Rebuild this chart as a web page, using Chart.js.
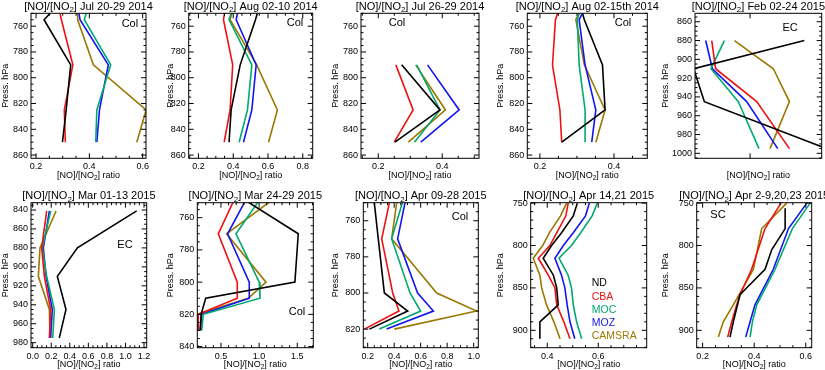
<!DOCTYPE html>
<html><head><meta charset="utf-8">
<script src="https://cdn.jsdelivr.net/npm/chart.js@4/dist/chart.umd.min.js"></script>
<style>
html,body{margin:0;padding:0;background:#fff;}
#wrap{position:relative;width:825px;height:370px;overflow:hidden;background:#fff;}
canvas{position:absolute;}
</style></head><body><div id="wrap"></div>
<script>
// ---------- DATA ----------
const seriesNames = ['ND','CBA','MOC','MOZ','CAMSRA'];

// Panel 1
const p1Date = 'Jul 20-29 2014';
const p1Pres = [750, 755, 790, 825, 850];
const p1ND     = [0.253, 0.230, 0.330, 0.313, 0.299];
const p1CBA    = [0.290, 0.295, 0.338, 0.306, 0.310];
const p1MOC    = [0.388, 0.381, 0.480, 0.428, 0.424];
const p1MOZ    = [0.361, 0.365, 0.471, 0.438, 0.428];
const p1CAMSRA = [0.356, 0.356, 0.415, 0.613, 0.578];
const p1XTicks = [0.2, 0.4, 0.6];
const p1YTicks = [760, 780, 800, 820, 840, 860];

// Panel 2
const p2Date = 'Aug 02-10 2014';
const p2Pres = [750, 755, 790, 825, 850];
const p2ND     = [0.539, 0.528, 0.440, 0.388, 0.376];
const p2CBA    = [0.350, 0.344, 0.397, 0.382, 0.348];
const p2MOC    = [0.388, 0.376, 0.507, 0.482, 0.434];
const p2MOZ    = [0.424, 0.417, 0.532, 0.507, 0.459];
const p2CAMSRA = [0.392, 0.382, 0.535, 0.654, 0.603];
const p2XTicks = [0.2, 0.4, 0.6, 0.8];
const p2YTicks = [760, 780, 800, 820, 840, 860];

// Panel 3
const p3Date = 'Jul 26-29 2014';
const p3Pres = [790, 825, 850];
const p3ND     = [0.273, 0.393, 0.252];
const p3CBA    = [0.255, 0.309, 0.250];
const p3MOC    = [0.320, 0.393, 0.313];
const p3MOZ    = [0.354, 0.453, 0.333];
const p3CAMSRA = [0.317, 0.410, 0.294];
const p3XTicks = [0.2, 0.4];
const p3YTicks = [760, 780, 800, 820, 840, 860];

// Panel 4
const p4Date = 'Aug 02-15th 2014';
const p4Pres = [750, 755, 790, 825, 850];
const p4ND     = [0.315, 0.320, 0.369, 0.376, 0.259];
const p4CBA    = [0.248, 0.242, 0.234, 0.254, 0.259];
const p4MOC    = [0.306, 0.301, 0.306, 0.322, 0.322];
const p4MOZ    = [0.315, 0.306, 0.322, 0.351, 0.340];
const p4CAMSRA = [0.306, 0.297, 0.320, 0.376, 0.351];
const p4XTicks = [0.2, 0.4];
const p4YTicks = [760, 780, 800, 820, 840, 860];

// Panel 5 (x tick labels not shown in the original)
const p5Date = 'Feb 02-24 2015';
const p5Pres = [880, 910, 945, 995];
const p5ND     = [0.992, -0.012, 0.085, 1.196];
const p5CBA    = [0.152, 0.187, 0.560, 0.857];
const p5MOC    = [0.267, 0.145, 0.393, 0.581];
const p5MOZ    = [0.097, 0.158, 0.469, 0.751];
const p5CAMSRA = [0.358, 0.711, 0.857, 0.681];
const p5XTicks = [0.5];
const p5YTicks = [860, 880, 900, 920, 940, 960, 980, 1000];

// Panel 6
const p6Date = 'Mar 01-13 2015';
const p6Pres = [841, 880, 910, 945, 975];
const p6ND     = [1.121, 0.482, 0.266, 0.359, 0.287];
const p6CBA    = [0.151, 0.097, 0.126, 0.194, 0.180];
const p6MOC    = [0.194, 0.104, 0.151, 0.234, 0.216];
const p6MOZ    = [0.180, 0.115, 0.144, 0.212, 0.194];
const p6CAMSRA = [0.252, 0.079, 0.061, 0.180, 0.187];
const p6XTicks = [0.0, 0.2, 0.4, 0.6, 0.8, 1.0, 1.2];
const p6YTicks = [840, 860, 880, 900, 920, 940, 960, 980];

// Panel 7
const p7Date = 'Mar 24-29 2015';
const p7Pres = [750, 770, 800, 810, 820, 830];
const p7ND     = [0.845, 1.513, 1.469, 0.300, 0.240, 0.230];
const p7CBA    = [0.662, 0.465, 0.714, 0.714, 0.203, 0.203];
const p7MOC    = [0.989, 0.697, 1.002, 1.011, 0.269, 0.247];
const p7MOZ    = [0.814, 0.587, 0.871, 0.871, 0.247, 0.225];
const p7CAMSRA = [1.142, 0.574, 1.090, 0.858, 0.190, 0.194];
const p7XTicks = [0.5, 1.0, 1.5];
const p7YTicks = [760, 780, 800, 820, 840];

// Panel 8
const p8Date = 'Apr 09-28 2015';
const p8Pres = [750, 770, 800, 810, 820];
const p8ND     = [0.250, 0.280, 0.326, 0.502, 0.213];
const p8CBA    = [0.364, 0.306, 0.389, 0.436, 0.175];
const p8MOC    = [0.462, 0.381, 0.520, 0.600, 0.288];
const p8MOZ    = [0.482, 0.426, 0.577, 0.696, 0.343];
const p8CAMSRA = [0.419, 0.381, 0.721, 1.023, 0.401];
const p8XTicks = [0.2, 0.4, 0.6, 0.8, 1.0];
const p8YTicks = [760, 780, 800, 820];

// Panel 9
const p9Date = 'Apr 14,21 2015';
const p9Pres = [750, 765, 785, 800, 815, 835, 850, 870, 890, 910];
const p9ND     = [0.518, 0.502, 0.456, 0.417, 0.384, 0.424, 0.437, 0.443, 0.371, 0.371];
const p9CBA    = [0.482, 0.473, 0.437, 0.410, 0.365, 0.404, 0.430, 0.437, 0.465, 0.489];
const p9MOC    = [0.596, 0.576, 0.531, 0.495, 0.446, 0.482, 0.495, 0.502, 0.515, 0.535];
const p9MOZ    = [0.565, 0.550, 0.502, 0.463, 0.430, 0.456, 0.469, 0.478, 0.489, 0.508];
const p9CAMSRA = [0.476, 0.452, 0.408, 0.382, 0.345, 0.371, 0.378, 0.397, 0.426, 0.450];
const p9XTicks = [0.4, 0.6];
const p9YTicks = [750, 800, 850, 900];

// Panel 10
const p10Date = 'Apr 2-9,20,23 2015';
const p10Pres = [750, 756, 780, 805, 828, 848, 858, 870, 890, 908];
const p10ND     = [null, 0.520, 0.520, 0.468, 0.442, 0.377, 0.345, null, 0.319, 0.306];
const p10CBA    = [0.504, null, 0.442, null, 0.390, null, 0.345, 0.332, 0.313, 0.297];
const p10MOC    = [0.617, null, 0.548, null, 0.481, null, null, 0.410, 0.393, 0.384];
const p10MOZ    = [0.604, null, 0.533, null, 0.474, null, null, 0.403, 0.384, 0.367];
const p10CAMSRA = [0.526, null, 0.429, null, 0.397, null, null, 0.319, 0.280, 0.261];
const p10XTicks = [0.2, 0.4, 0.6];
const p10YTicks = [750, 800, 850, 900];

// ---------- STYLE / LAYOUT ----------
const FONT = '"Liberation Sans", Arial, Helvetica, sans-serif';
const COLORS = ['#000000', '#ee1111', '#00a872', '#1414f0', '#9a7800'];

const panels = [
  {n:1, date:p1Date, pres:p1Pres, vals:[p1ND,p1CBA,p1MOC,p1MOZ,p1CAMSRA], xt:p1XTicks, yt:p1YTicks,
   cx:0, cy:0, area:[31,146,13.3,158.3], xr:[0.181,0.6125], yr:[750,862.5], xm:0.05, ym:5, note:'Col', nf:[0.86,0.074]},
  {n:2, date:p2Date, pres:p2Pres, vals:[p2ND,p2CBA,p2MOC,p2MOZ,p2CAMSRA], xt:p2XTicks, yt:p2YTicks,
   cx:165, cy:0, area:[188.7,312.7,13.3,158.3], xr:[0.144,0.857], yr:[750,862.5], xm:0.05, ym:5, note:'Col', nf:[0.857,0.067]},
  {n:3, date:p3Date, pres:p3Pres, vals:[p3ND,p3CBA,p3MOC,p3MOZ,p3CAMSRA], xt:p3XTicks, yt:p3YTicks,
   cx:330, cy:0, area:[361,479,13.3,158.3], xr:[0.146,0.515], yr:[750,862.5], xm:0.05, ym:5, note:'Col', nf:[0.305,0.067]},
  {n:4, date:p4Date, pres:p4Pres, vals:[p4ND,p4CBA,p4MOC,p4MOZ,p4CAMSRA], xt:p4XTicks, yt:p4YTicks,
   cx:495, cy:0, area:[527.3,647.3,13.3,158.3], xr:[0.166,0.49], yr:[750,862.5], xm:0.05, ym:5, note:'Col', nf:[0.798,0.067]},
  {n:5, date:p5Date, pres:p5Pres, vals:[p5ND,p5CBA,p5MOC,p5MOZ,p5CAMSRA], xt:p5XTicks, yt:p5YTicks,
   cx:660, cy:0, area:[695,821.7,13.3,158.3], xr:[0,1.15], yr:[851,1005.3], xm:0, ym:5, note:'EC', nf:[0.75,0.10], noXLabels:true},
  {n:6, date:p6Date, pres:p6Pres, vals:[p6ND,p6CBA,p6MOC,p6MOZ,p6CAMSRA], xt:p6XTicks, yt:p6YTicks,
   cx:0, cy:185, area:[31,146.7,202.7,347.7], xr:[-0.018,1.229], yr:[832.3,985.3], xm:0.05, ym:5, note:'EC', nf:[0.812,0.292]},
  {n:7, date:p7Date, pres:p7Pres, vals:[p7ND,p7CBA,p7MOC,p7MOZ,p7CAMSRA], xt:p7XTicks, yt:p7YTicks,
   cx:165, cy:185, area:[197.3,313.3,202.7,347.7], xr:[0.19,1.71], yr:[750.7,840.7], xm:0.1, ym:5, note:'Col', nf:[0.86,0.754]},
  {n:8, date:p8Date, pres:p8Pres, vals:[p8ND,p8CBA,p8MOC,p8MOZ,p8CAMSRA], xt:p8XTicks, yt:p8YTicks,
   cx:330, cy:185, area:[363.3,478.3,202.7,347.7], xr:[0.167,1.035], yr:[750,830.3], xm:0.05, ym:5, note:'Col', nf:[0.841,0.099]},
  {n:9, date:p9Date, pres:p9Pres, vals:[p9ND,p9CBA,p9MOC,p9MOZ,p9CAMSRA], xt:p9XTicks, yt:p9YTicks,
   cx:495, cy:185, area:[530.7,646.7,202.7,347.7], xr:[0.335,0.79], yr:[749.5,920.5], xm:0.05, ym:10, legend:[0.526,0.556]},
  {n:10, date:p10Date, pres:p10Pres, vals:[p10ND,p10CBA,p10MOC,p10MOZ,p10CAMSRA], xt:p10XTicks, yt:p10YTicks,
   cx:660, cy:185, area:[696.7,811.7,202.7,347.7], xr:[0.177,0.623], yr:[749.5,920.5], xm:0.05, ym:10, note:'SC', nf:[0.185,0.085]}
];

function drawRich(ctx, pre, sub, post, cx, cy, size) {
  ctx.font = size + 'px ' + FONT;
  const w1 = ctx.measureText(pre).width, w3 = ctx.measureText(post).width;
  ctx.font = (size * 0.72) + 'px ' + FONT;
  const w2 = ctx.measureText(sub).width;
  let x = cx - (w1 + w2 + w3) / 2;
  const base = cy + size * 0.36;
  ctx.textAlign = 'left'; ctx.textBaseline = 'alphabetic'; ctx.fillStyle = '#000';
  ctx.font = size + 'px ' + FONT; ctx.fillText(pre, x, base); x += w1;
  ctx.font = (size * 0.72) + 'px ' + FONT; ctx.fillText(sub, x, base + size * 0.22); x += w2;
  ctx.font = size + 'px ' + FONT; ctx.fillText(post, x, base);
}

function makeIdl(cfg) {
  return {
    id: 'idl' + cfg.n,
    afterDraw(chart) {
      const ctx = chart.ctx, a = chart.chartArea, xs = chart.scales.x, ys = chart.scales.y;
      ctx.save();
      ctx.strokeStyle = '#000'; ctx.lineWidth = 1;
      ctx.strokeRect(a.left, a.top, a.right - a.left, a.bottom - a.top);
      const near = (v, arr) => arr.some(t => Math.abs(t - v) < 1e-6);
      ctx.beginPath();
      const xTick = (v, len) => {
        const px = xs.getPixelForValue(v);
        if (px < a.left - 0.1 || px > a.right + 0.1) return;
        ctx.moveTo(px, a.bottom); ctx.lineTo(px, a.bottom - len);
        ctx.moveTo(px, a.top); ctx.lineTo(px, a.top + len);
      };
      const yTick = (v, len) => {
        const py = ys.getPixelForValue(v);
        if (py < a.top - 0.1 || py > a.bottom + 0.1) return;
        ctx.moveTo(a.left, py); ctx.lineTo(a.left + len, py);
        ctx.moveTo(a.right, py); ctx.lineTo(a.right - len, py);
      };
      cfg.xt.forEach(v => xTick(v, 5));
      cfg.yt.forEach(v => yTick(v, 5));
      if (cfg.xm) {
        for (let k = Math.ceil(cfg.xr[0] / cfg.xm); k * cfg.xm <= cfg.xr[1]; k++) {
          const v = +(k * cfg.xm).toFixed(6);
          if (!near(v, cfg.xt)) xTick(v, 2.5);
        }
      }
      if (cfg.ym) {
        for (let k = Math.ceil(cfg.yr[0] / cfg.ym); k * cfg.ym <= cfg.yr[1]; k++) {
          const v = k * cfg.ym;
          if (!near(v, cfg.yt)) yTick(v, 2.5);
        }
      }
      ctx.stroke();
      const mid = (a.left + a.right) / 2;
      drawRich(ctx, '[NO]/[NO', '2', '] ' + cfg.date, mid, a.top - 7.5, 11);
      drawRich(ctx, '[NO]/[NO', '2', '] ratio', mid, a.bottom + 16.5, 9);
      const W = a.right - a.left, H = a.bottom - a.top;
      if (cfg.note) {
        ctx.font = '11px ' + FONT; ctx.fillStyle = '#000';
        ctx.textAlign = 'center'; ctx.textBaseline = 'middle';
        ctx.fillText(cfg.note, a.left + cfg.nf[0] * W, a.top + cfg.nf[1] * H);
      }
      if (cfg.legend) {
        ctx.font = '10.5px ' + FONT; ctx.textAlign = 'left'; ctx.textBaseline = 'middle';
        seriesNames.forEach((nm, i) => {
          ctx.fillStyle = COLORS[i];
          ctx.fillText(nm, a.left + cfg.legend[0] * W, a.top + cfg.legend[1] * H + i * 13.3);
        });
      }
      ctx.restore();
    }
  };
}

const wrap = document.getElementById('wrap');
panels.forEach(cfg => {
  const W = 165, Hh = 185;
  const cv = document.createElement('canvas');
  cv.width = W; cv.height = Hh;
  cv.style.left = cfg.cx + 'px'; cv.style.top = cfg.cy + 'px';
  cv.style.width = W + 'px'; cv.style.height = Hh + 'px';
  wrap.appendChild(cv);
  const yW = cfg.area[0] - cfg.cx;
  const padR = cfg.cx + W - cfg.area[1];
  const padT = cfg.area[2] - cfg.cy;
  const xH = cfg.cy + Hh - cfg.area[3];
  const datasets = seriesNames.map((nm, i) => ({
    label: nm,
    data: cfg.pres.map((p, k) => cfg.vals[i][k] == null ? null : {x: cfg.vals[i][k], y: p}).filter(d => d),
    borderColor: COLORS[i], backgroundColor: COLORS[i],
    borderWidth: 1.6, pointRadius: 0, showLine: true, fill: false, tension: 0
  }));
  new Chart(cv, {
    type: 'scatter',
    data: {datasets},
    options: {
      responsive: false, animation: false, devicePixelRatio: 1,
      layout: {padding: {top: padT, right: padR, left: 0, bottom: 0}},
      plugins: {legend: {display: false}, tooltip: {enabled: false}, title: {display: false}},
      scales: {
        x: {
          type: 'linear', position: 'bottom', min: cfg.xr[0], max: cfg.xr[1], bounds: 'data',
          grid: {display: false, drawTicks: false, tickLength: 0}, border: {display: false},
          afterBuildTicks: s => { s.ticks = cfg.xt.map(v => ({value: v})); },
          afterFit: s => { s.height = xH; },
          ticks: {display: !cfg.noXLabels, autoSkip: false, maxRotation: 0, minRotation: 0, padding: 3,
                  font: {family: FONT, size: 9}, color: '#000', callback: v => Number(v).toFixed(1)}
        },
        y: {
          type: 'linear', position: 'left', reverse: true, min: cfg.yr[0], max: cfg.yr[1], bounds: 'data',
          grid: {display: false, drawTicks: false, tickLength: 0}, border: {display: false},
          afterBuildTicks: s => { s.ticks = cfg.yt.map(v => ({value: v})); },
          afterFit: s => { s.width = yW; },
          ticks: {autoSkip: false, padding: 3, font: {family: FONT, size: 9}, color: '#000', callback: v => String(v)},
          title: {display: true, text: 'Press. hPa', font: {family: FONT, size: 9}, color: '#000', padding: 0}
        }
      }
    },
    plugins: [makeIdl(cfg)]
  });
});
</script>
</body></html>
